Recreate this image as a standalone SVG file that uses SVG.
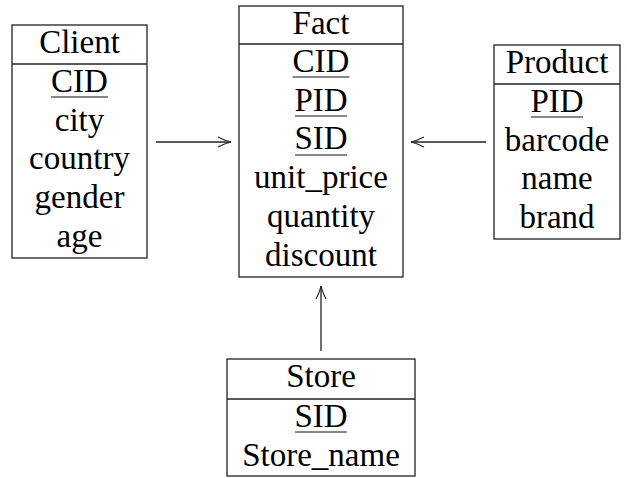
<svg xmlns="http://www.w3.org/2000/svg" width="627" height="478" viewBox="0 0 627 478">
<defs>
<marker id="arr" markerUnits="userSpaceOnUse" markerWidth="20" markerHeight="14" refX="0" refY="0" viewBox="-16 -7 20 14" orient="auto">
<path d="M -13 -5 Q -5 -1 0 0 Q -5 1 -13 5" fill="none" stroke="#222" stroke-width="1.2"/>
</marker>
</defs>
<g id="connectors" stroke="#222" stroke-width="1.3" fill="none">
<line x1="156" y1="142" x2="231" y2="142" marker-end="url(#arr)"/>
<line x1="486" y1="142" x2="411" y2="142" marker-end="url(#arr)"/>
<line x1="321" y1="351" x2="321" y2="286" marker-end="url(#arr)"/>
</g>
<g id="client">
<rect x="12" y="25" width="135" height="233" fill="#fff" stroke="#222" stroke-width="1.3"/>
<line x1="12" y1="64" x2="147" y2="64" stroke="#222" stroke-width="1.3"/>
<text font-family="Liberation Serif, Times New Roman, serif" font-size="33" text-anchor="middle" x="79.5" y="53">Client</text>
<text font-family="Liberation Serif, Times New Roman, serif" font-size="33" text-anchor="middle" x="79.5" y="92">CID</text>
<line x1="51" y1="97" x2="108" y2="97" stroke="#111" stroke-width="1.2"/>
<text font-family="Liberation Serif, Times New Roman, serif" font-size="33" text-anchor="middle" x="79.5" y="130.5">city</text>
<text font-family="Liberation Serif, Times New Roman, serif" font-size="33" text-anchor="middle" x="79.5" y="169.3">country</text>
<text font-family="Liberation Serif, Times New Roman, serif" font-size="33" text-anchor="middle" x="79.5" y="208.1">gender</text>
<text font-family="Liberation Serif, Times New Roman, serif" font-size="33" text-anchor="middle" x="79.5" y="246.9">age</text>
</g>
<g id="fact">
<rect x="239" y="6" width="164" height="271" fill="#fff" stroke="#222" stroke-width="1.3"/>
<line x1="239" y1="44" x2="403" y2="44" stroke="#222" stroke-width="1.3"/>
<text font-family="Liberation Serif, Times New Roman, serif" font-size="33" text-anchor="middle" x="321" y="34">Fact</text>
<text font-family="Liberation Serif, Times New Roman, serif" font-size="33" text-anchor="middle" x="321" y="71.7">CID</text>
<line x1="292.5" y1="77" x2="349.5" y2="77" stroke="#111" stroke-width="1.2"/>
<text font-family="Liberation Serif, Times New Roman, serif" font-size="33" text-anchor="middle" x="321" y="110.5">PID</text>
<line x1="295" y1="116" x2="347" y2="116" stroke="#111" stroke-width="1.2"/>
<text font-family="Liberation Serif, Times New Roman, serif" font-size="33" text-anchor="middle" x="321" y="149.3">SID</text>
<line x1="295" y1="155" x2="347" y2="155" stroke="#111" stroke-width="1.2"/>
<text font-family="Liberation Serif, Times New Roman, serif" font-size="33" text-anchor="middle" x="321" y="188.1">unit_price</text>
<text font-family="Liberation Serif, Times New Roman, serif" font-size="33" text-anchor="middle" x="321" y="226.9">quantity</text>
<text font-family="Liberation Serif, Times New Roman, serif" font-size="33" text-anchor="middle" x="321" y="265.7">discount</text>
</g>
<g id="product">
<rect x="494" y="45" width="126" height="194" fill="#fff" stroke="#222" stroke-width="1.3"/>
<line x1="494" y1="84" x2="620" y2="84" stroke="#222" stroke-width="1.3"/>
<text font-family="Liberation Serif, Times New Roman, serif" font-size="33" text-anchor="middle" x="557" y="73">Product</text>
<text font-family="Liberation Serif, Times New Roman, serif" font-size="33" text-anchor="middle" x="557" y="111.7">PID</text>
<line x1="531" y1="117" x2="583" y2="117" stroke="#111" stroke-width="1.2"/>
<text font-family="Liberation Serif, Times New Roman, serif" font-size="33" text-anchor="middle" x="557" y="150.5">barcode</text>
<text font-family="Liberation Serif, Times New Roman, serif" font-size="33" text-anchor="middle" x="557" y="189.3">name</text>
<text font-family="Liberation Serif, Times New Roman, serif" font-size="33" text-anchor="middle" x="557" y="228.1">brand</text>
</g>
<g id="store">
<rect x="227" y="359" width="188" height="117" fill="#fff" stroke="#222" stroke-width="1.3"/>
<line x1="227" y1="399" x2="415" y2="399" stroke="#222" stroke-width="1.3"/>
<text font-family="Liberation Serif, Times New Roman, serif" font-size="33" text-anchor="middle" x="321" y="387">Store</text>
<text font-family="Liberation Serif, Times New Roman, serif" font-size="33" text-anchor="middle" x="321" y="426.7">SID</text>
<line x1="295" y1="432" x2="347" y2="432" stroke="#111" stroke-width="1.2"/>
<text font-family="Liberation Serif, Times New Roman, serif" font-size="33" text-anchor="middle" x="321" y="465.5">Store_name</text>
</g>
</svg>
